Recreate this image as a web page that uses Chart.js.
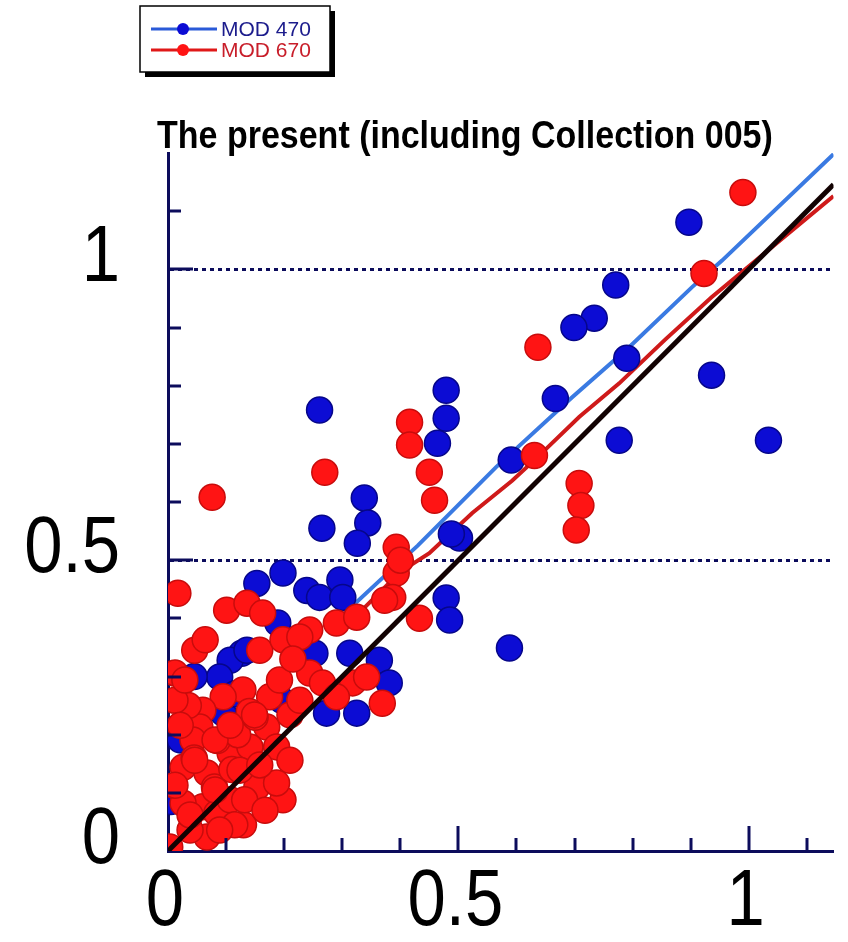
<!DOCTYPE html>
<html>
<head>
<meta charset="utf-8">
<script src="https://cdn.jsdelivr.net/npm/chart.js@4.4.1/dist/chart.umd.min.js"></script>
<style>
  html, body { margin: 0; padding: 0; background: #fff; }
  canvas { display: block; }
</style>
</head>
<body>
<canvas id="cv" width="848" height="942"></canvas>
<script>
// MODIS retrieved vs. observed AOD, two wavelength channels
const titleText = 'The present (including Collection 005)';

const mod470x = [0.897, 0.771, 0.734, 0.699, 0.790, 0.667, 0.936, 0.777, 1.034, 0.591,
  0.479, 0.479, 0.464, 0.502, 0.488, 0.479, 0.485, 0.588, 0.261, 0.338,
  0.344, 0.326, 0.265, 0.153, 0.198, 0.239, 0.261, 0.296, 0.301, 0.189,
  0.127, 0.253, 0.313, 0.364, 0.107, 0.089, 0.136, 0.381, 0.273, 0.325,
  0.124, 0.095, 0.021, 0.009, 0.196, 0.115, 0.045, 0.005];
const mod470y = [1.081, 0.973, 0.916, 0.900, 0.847, 0.778, 0.818, 0.706, 0.706, 0.672,
  0.792, 0.744, 0.701, 0.538, 0.545, 0.435, 0.397, 0.349, 0.758, 0.607,
  0.564, 0.529, 0.555, 0.460, 0.478, 0.448, 0.436, 0.466, 0.436, 0.392,
  0.340, 0.340, 0.340, 0.328, 0.328, 0.299, 0.345, 0.289, 0.237, 0.237,
  0.222, 0.237, 0.191, 0.110, 0.259, 0.270, 0.300, 0.085];

const mod670x = [0.990, 0.923, 0.637, 0.631, 0.416, 0.416, 0.270, 0.450, 0.459, 0.708,
  0.711, 0.703, 0.076, 0.393, 0.393, 0.387, 0.433, 0.017, 0.012, 0.101,
  0.136, 0.163, 0.244, 0.290, 0.325, 0.158, 0.198, 0.227, 0.373, 0.244,
  0.266, 0.318, 0.342, 0.369, 0.290, 0.129, 0.095, 0.060, 0.175, 0.192,
  0.055, 0.043, 0.026, 0.067, 0.107, 0.141, 0.170, 0.187, 0.210, 0.198,
  0.153, 0.187, 0.060, 0.084, 0.107, 0.026, 0.067, 0.038, 0.003, 0.035,
  0.085, 0.120, 0.150, 0.080, 0.130, 0.110, 0.215, 0.045, 0.140, 0.400,
  0.012, 0.021, 0.046, 0.012, 0.081, 0.124, 0.158, 0.132, 0.167, 0.115,
  0.089, 0.038, 0.081, 0.107, 0.149, 0.210, 0.227, 0.029, 0.046, 0.064];
const mod670y = [1.132, 0.993, 0.866, 0.680, 0.737, 0.698, 0.651, 0.651, 0.603, 0.632,
  0.594, 0.552, 0.608, 0.522, 0.478, 0.436, 0.400, 0.443, 0.306, 0.414,
  0.426, 0.409, 0.380, 0.392, 0.402, 0.345, 0.363, 0.368, 0.431, 0.306,
  0.289, 0.289, 0.299, 0.254, 0.265, 0.277, 0.265, 0.242, 0.265, 0.294,
  0.213, 0.191, 0.144, 0.134, 0.168, 0.179, 0.213, 0.179, 0.156, 0.088,
  0.110, 0.117, 0.076, 0.065, 0.088, 0.082, 0.024, 0.036, 0.007, 0.250,
  0.190, 0.200, 0.230, 0.110, 0.045, 0.140, 0.330, 0.160, 0.240, 0.500,
  0.259, 0.216, 0.156, 0.113, 0.105, 0.139, 0.148, 0.088, 0.070, 0.045,
  0.036, 0.062, 0.191, 0.216, 0.234, 0.234, 0.259, 0.294, 0.345, 0.363];

// binned fit lines
const fit470x = [0.30, 0.37, 0.43, 0.565, 0.696, 0.794, 0.902, 0.954, 1.146];
const fit470y = [0.405, 0.470, 0.525, 0.660, 0.780, 0.866, 0.969, 1.015, 1.198];
const fit670x = [0.31, 0.40, 0.45, 0.524, 0.593, 0.631, 0.708, 0.777, 0.857, 0.936, 1.146];
const fit670y = [0.390, 0.480, 0.512, 0.581, 0.637, 0.672, 0.746, 0.804, 0.880, 0.952, 1.126];
const oneToOne = [0, 1.146];

const xTickValues = [0, 0.5, 1];
const xTickLabels = ['0', '0.5', '1'];
const yTickValues = [0, 0.5, 1];
const yTickLabels = ['0', '0.5', '1'];

const NAVY = '#0c0c5c';
const pts = (xs, ys) => xs.map((x, i) => ({x, y: ys[i]}));

// narrow, tall label text
function tallText(ctx, text, x, y, sx) {
  ctx.save();
  ctx.translate(x, y);
  ctx.scale(sx, 1);
  ctx.fillText(text, 0, 0);
  ctx.restore();
}

// axis ticks (pointing inward), tick labels, title and boxed legend
const frame = {
  id: 'frame',
  afterDraw(chart) {
    const ctx = chart.ctx;
    const xs = chart.scales.x, ys = chart.scales.y;
    const a = chart.chartArea;
    ctx.save();
    ctx.strokeStyle = NAVY;
    ctx.lineWidth = 3;
    for (let k = 1; k <= 11; k++) {
      const v = k / 10, major = k % 5 === 0;
      const len = major ? 25 : 13;
      const px = Math.round(xs.getPixelForValue(v));
      ctx.beginPath(); ctx.moveTo(px, a.bottom); ctx.lineTo(px, a.bottom - len); ctx.stroke();
      const py = Math.round(ys.getPixelForValue(v));
      ctx.beginPath(); ctx.moveTo(a.left, py); ctx.lineTo(a.left + len, py); ctx.stroke();
    }

    ctx.fillStyle = '#000';
    ctx.font = '80px "Liberation Sans", Arial, sans-serif';
    ctx.textBaseline = 'middle';
    ctx.textAlign = 'center';
    xTickValues.forEach((v, i) => tallText(ctx, xTickLabels[i], xs.getPixelForValue(v) - 3, 903, 0.86));
    ctx.textAlign = 'right';
    yTickValues.forEach((v, i) => tallText(ctx, yTickLabels[i], 120, ys.getPixelForValue(v) - 10, 0.86));

    ctx.save();
    ctx.translate(157, 148);
    ctx.scale(1, 1.12);
    ctx.font = 'bold 34px "Liberation Sans", Arial, sans-serif';
    ctx.textAlign = 'left';
    ctx.textBaseline = 'alphabetic';
    ctx.fillText(titleText, 0, 0);
    ctx.restore();

    // legend box with drop shadow
    const bx = 140, by = 6, bw = 190, bh = 66;
    ctx.fillStyle = '#000';
    ctx.fillRect(bx + 5, by + 5, bw, bh);
    ctx.fillStyle = '#fff';
    ctx.fillRect(bx, by, bw, bh);
    ctx.strokeStyle = '#000';
    ctx.lineWidth = 1.5;
    ctx.strokeRect(bx, by, bw, bh);
    const items = chart.data.datasets.filter(d => d.legendLine)
      .sort((p, q) => p.legendRank - q.legendRank);
    items.forEach((d, i) => {
      const y = 29 + i * 21;
      ctx.strokeStyle = d.legendLine;
      ctx.lineWidth = 3;
      ctx.beginPath(); ctx.moveTo(151, y); ctx.lineTo(217, y); ctx.stroke();
      ctx.fillStyle = d.backgroundColor;
      ctx.beginPath(); ctx.arc(183, y, 6, 0, Math.PI * 2); ctx.fill();
      ctx.fillStyle = d.legendText;
      ctx.font = '21px "Liberation Sans", Arial, sans-serif';
      ctx.textAlign = 'left';
      ctx.textBaseline = 'middle';
      ctx.fillText(d.label, 221, y + 1);
    });
    ctx.restore();
  }
};

new Chart(document.getElementById('cv'), {
  type: 'scatter',
  data: {
    datasets: [
      {label: '1:1', type: 'line', data: pts(oneToOne, oneToOne), borderColor: '#120202',
       borderWidth: 5, pointRadius: 0, order: 0},
      {label: 'MOD 670', data: pts(mod670x, mod670y), backgroundColor: '#ff1414',
       borderColor: '#c80c0c', borderWidth: 1.5, pointRadius: 13, order: 1,
       legendLine: '#e01818', legendText: '#c81e2a', legendRank: 2},
      {label: 'MOD 470', data: pts(mod470x, mod470y), backgroundColor: '#0c0cd4',
       borderColor: '#06068a', borderWidth: 1.5, pointRadius: 13, order: 2,
       legendLine: '#2a5ad8', legendText: '#1c1c8c', legendRank: 1},
      {label: 'fit 670', type: 'line', data: pts(fit670x, fit670y), borderColor: '#cf1a1a',
       borderWidth: 4, pointRadius: 0, order: 3},
      {label: 'fit 470', type: 'line', data: pts(fit470x, fit470y), borderColor: '#3a7ae2',
       borderWidth: 4, pointRadius: 0, order: 4}
    ]
  },
  options: {
    responsive: false,
    animation: false,
    devicePixelRatio: 1,
    layout: {padding: {left: 168, right: 13, top: 153, bottom: 91}},
    plugins: {legend: {display: false}, tooltip: {enabled: false}},
    scales: {
      x: {
        type: 'linear', min: 0, max: 1.146,
        ticks: {display: false, stepSize: 0.1},
        grid: {display: false, drawTicks: false},
        border: {display: true, color: NAVY, width: 3}
      },
      y: {
        type: 'linear', min: 0, max: 1.2,
        ticks: {display: false, stepSize: 0.1},
        grid: {
          drawTicks: false, lineWidth: 3,
          color: c => (Math.abs(c.tick.value - 0.5) < 1e-6 || Math.abs(c.tick.value - 1) < 1e-6) ? NAVY : 'rgba(0,0,0,0)'
        },
        border: {display: true, color: NAVY, width: 3, dash: [4, 4]}
      }
    }
  },
  plugins: [frame]
});
</script>
</body>
</html>
